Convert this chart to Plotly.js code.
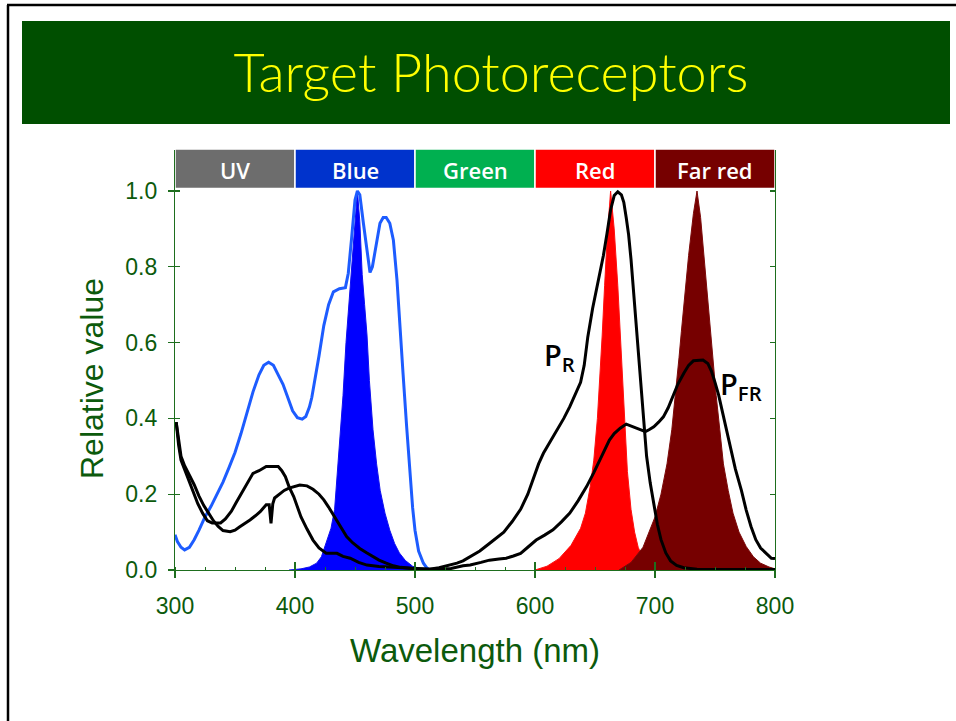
<!DOCTYPE html>
<html>
<head>
<meta charset="utf-8">
<script src="https://cdn.plot.ly/plotly-3.0.1.min.js"></script>
<style>
html,body{margin:0;padding:0;background:#fff;}
#chart{width:956px;height:721px;}
</style>
</head>
<body>
<div id="chart"></div>
<script>
// ---- data ----
const bandNames = ["UV", "Blue", "Green", "Red", "Far red"];
const bandStart = [300, 400, 500, 600, 700];
const bandEnd   = [400, 500, 600, 700, 800];

const cryWl  = [300,302,305,308,312,316,320,325,330,335,340,345,350,355,360,365,370,374,378,382,386,390,394,398,402,406,409,412,414,416,420,424,428,432,437,442,444.4,447,450,452,454,457,459.7,462.5,464.5,466.7,470.8,473.5,476,479,482,485,487.5,490,493,496,498,500,503,507,510,513];
const cryVal = [0.093,0.075,0.06,0.053,0.06,0.08,0.105,0.14,0.168,0.2,0.232,0.27,0.31,0.36,0.415,0.47,0.515,0.54,0.548,0.54,0.515,0.49,0.455,0.42,0.402,0.398,0.405,0.43,0.455,0.49,0.565,0.645,0.7,0.734,0.742,0.745,0.783,0.87,0.976,1.0,0.99,0.915,0.844,0.785,0.8,0.844,0.915,0.93,0.93,0.915,0.87,0.765,0.63,0.52,0.38,0.245,0.165,0.105,0.05,0.018,0.005,0];

const prWl  = [301,303,305,308,311,315,319,323,327,331,338,342,347,351,356,360,365,370,376,386,389,392,395,399,402,405,410,415,420,426,435,440,446,453,460,470,482,495,512,520,528,535,540,546,554,562,568,574,581,588,594,599,603,607,612,618,624,629,634,638,641,644,648,653,657,660,663,666,669,672,674,676,678,680,682,684,686,688,690,693,696,699,702,705,709,713,718,724,735,760,800];
const prVal = [0.39,0.33,0.29,0.265,0.24,0.205,0.175,0.15,0.13,0.124,0.124,0.135,0.155,0.178,0.205,0.229,0.255,0.262,0.273,0.273,0.262,0.246,0.22,0.193,0.165,0.14,0.108,0.079,0.058,0.044,0.044,0.036,0.031,0.02,0.013,0.009,0.007,0.004,0.002,0.006,0.012,0.018,0.024,0.035,0.05,0.07,0.085,0.1,0.128,0.16,0.2,0.246,0.28,0.308,0.335,0.369,0.4,0.431,0.465,0.495,0.54,0.615,0.69,0.765,0.83,0.888,0.95,0.988,0.998,0.99,0.97,0.93,0.885,0.82,0.74,0.65,0.57,0.49,0.42,0.3,0.23,0.172,0.12,0.08,0.045,0.024,0.012,0.006,0.002,0.001,0.001];

const pfrWl  = [301,303,305,308,312,316,320,324,328,332,336,340,346,350,354,358,362.5,367,371,376,378.5,380,381.5,383,387,391,395,399,404,410,415,420,424,428,432,437,443,448,454,460,465,470,476,482,488,498,512,530,540,546,555,562,570,576,582,588,594,601,608,615,622,629,636,643,649,654,658,662,666,671,676,680,684,688,692,695,699,703,707,711,715,719,724,728,732,740,744,747,750,753,756,759,763,767,772,776,780,784,788,793,797,800];
const pfrVal = [0.39,0.34,0.3,0.275,0.25,0.225,0.195,0.17,0.15,0.13,0.115,0.104,0.101,0.105,0.114,0.122,0.132,0.143,0.154,0.172,0.172,0.123,0.175,0.19,0.2,0.21,0.216,0.22,0.224,0.222,0.213,0.2,0.185,0.166,0.145,0.117,0.088,0.072,0.057,0.045,0.035,0.026,0.018,0.011,0.007,0.004,0.002,0.004,0.011,0.013,0.02,0.026,0.029,0.031,0.037,0.044,0.06,0.079,0.092,0.106,0.127,0.15,0.183,0.22,0.257,0.29,0.317,0.343,0.36,0.374,0.385,0.38,0.373,0.368,0.365,0.37,0.378,0.39,0.404,0.428,0.457,0.49,0.519,0.54,0.552,0.554,0.545,0.525,0.495,0.462,0.42,0.378,0.32,0.266,0.21,0.158,0.115,0.08,0.058,0.044,0.031,0.03];

const blueLedWl  = [395,405,412,418,422,426,430,433,436,438,440,442.5,445,447,450,452,454,456,458,460,462,465,468,471,475,479,483,487,492,498,505,510];
const blueLedVal = [0,0.003,0.008,0.018,0.035,0.07,0.11,0.16,0.28,0.37,0.46,0.6,0.7,0.78,0.92,1.0,0.92,0.78,0.7,0.62,0.5,0.37,0.28,0.21,0.15,0.105,0.07,0.045,0.025,0.01,0.003,0];

const redLedWl  = [600,610,620,630,638,642,646,649,652,654,656,658,660,663,666,669,671,673,675,677,680,683,686,690,700,710];
const redLedVal = [0,0.01,0.03,0.065,0.11,0.15,0.22,0.29,0.4,0.5,0.62,0.75,0.87,1.0,0.9,0.75,0.62,0.48,0.36,0.26,0.16,0.1,0.06,0.03,0.01,0];

const farRedLedWl  = [670,680,690,700,705,710,714,717,720,722,725,728,732,735,738,741,744,746,749,751,754,757,761,765,770,776,782,788,795,800];
const farRedLedVal = [0,0.02,0.06,0.14,0.2,0.28,0.37,0.46,0.56,0.63,0.74,0.83,0.94,1.0,0.93,0.82,0.7,0.63,0.53,0.46,0.37,0.28,0.21,0.15,0.1,0.062,0.035,0.018,0.008,0.003];

const xTicks = [300, 400, 500, 600, 700, 800];
const yTicks = [0, 0.2, 0.4, 0.6, 0.8, 1.0];

// ---- styles ----
const bandColors = ["#6d6d6d", "#0033cc", "#00b050", "#ff0000", "#760000"];
const axisGreen = "#1e6e1e";
const textGreen = "#0c5a0c";
const cryBlue = "#1d5cff";

const traces = [
  {x: blueLedWl, y: blueLedVal, type: "scatter", mode: "lines", fill: "tozeroy",
   fillcolor: "#0000ff", line: {color: "#1010f0", width: 1}, hoverinfo: "skip", name: "Blue LED"},
  {x: redLedWl, y: redLedVal, type: "scatter", mode: "lines", fill: "tozeroy",
   fillcolor: "#ff0000", line: {color: "#ff1010", width: 1}, hoverinfo: "skip", name: "Red LED"},
  {x: farRedLedWl, y: farRedLedVal, type: "scatter", mode: "lines", fill: "tozeroy",
   fillcolor: "#760000", line: {color: "#7c0a0a", width: 1}, hoverinfo: "skip", name: "Far red LED"},
  {x: cryWl, y: cryVal, type: "scatter", mode: "lines", line: {color: cryBlue, width: 3}, name: "CRY"},
  {x: prWl, y: prVal, type: "scatter", mode: "lines", line: {color: "#000", width: 3}, name: "PR"},
  {x: pfrWl, y: pfrVal, type: "scatter", mode: "lines", line: {color: "#000", width: 3}, name: "PFR"},
  {x: [], y: [], xaxis: "x2", yaxis: "y2", type: "scatter", mode: "lines", showlegend: false, hoverinfo: "skip"}
];

// plot area: x 175..775 px, y 150..570 px ; 1.0 at 191 px
const yMax = 420 / 379;
const px2paperX = p => (p - 175) / 600;
const px2paperY = p => (570 - p) / 420;

const shapes = [
  // slide frame
  {type: "rect", xref: "paper", yref: "paper", x0: px2paperX(22), x1: px2paperX(950), y0: px2paperY(124), y1: px2paperY(21),
   fillcolor: "#004f00", line: {width: 0}, layer: "below"},
  {type: "line", xref: "paper", yref: "paper", x0: px2paperX(7), x1: px2paperX(956), y0: px2paperY(5), y1: px2paperY(5),
   line: {color: "#000", width: 2.5}},
  {type: "line", xref: "paper", yref: "paper", x0: px2paperX(8), x1: px2paperX(8), y0: px2paperY(5), y1: px2paperY(721),
   line: {color: "#000", width: 2.5}}
];
const annotations = [];
bandNames.forEach((n, i) => {
  shapes.push({type: "rect", xref: "x", yref: "paper", x0: bandStart[i], x1: bandEnd[i],
    y0: px2paperY(188.5), y1: px2paperY(149), fillcolor: bandColors[i], line: {color: "#fff", width: 1.5}, layer: "above"});
  annotations.push({xref: "x", yref: "paper", x: (bandStart[i] + bandEnd[i]) / 2, y: px2paperY(170),
    text: n, showarrow: false, xanchor: "center", yanchor: "middle",
    font: {family: "Open Sans, sans-serif", size: 22, color: "#ffffff", weight: 600}});
});
annotations.push(
  {xref: "paper", yref: "paper", x: px2paperX(92), y: px2paperY(379), text: "Relative value", textangle: -90,
   showarrow: false, xanchor: "center", yanchor: "middle",
   font: {family: "Liberation Sans, Arial, sans-serif", size: 32, color: textGreen}},
  {xref: "x", yref: "y", x: 280, y: (570 - 325) / 379, text: "CRY", showarrow: false,
   xanchor: "center", yanchor: "middle", font: {family: "Liberation Sans, Arial, sans-serif", size: 28, color: cryBlue}},
  {xref: "x", yref: "y", x: 620, y: (570 - 356) / 379, text: "P<sub>R</sub>", showarrow: false,
   xanchor: "center", yanchor: "middle", font: {family: "Open Sans, sans-serif", size: 29, color: "#000", weight: 600}},
  {xref: "x", yref: "y", x: 772, y: (570 - 385) / 379, text: "P<sub>FR</sub>", showarrow: false,
   xanchor: "center", yanchor: "middle", font: {family: "Open Sans, sans-serif", size: 29, color: "#000", weight: 600}}
);

const layout = {
  width: 956, height: 721,
  margin: {l: 175, r: 181, t: 150, b: 151, pad: 0},
  paper_bgcolor: "#ffffff", plot_bgcolor: "#ffffff",
  showlegend: false,
  title: {text: "Target Photoreceptors", x: 491 / 956, xanchor: "center", y: 1 - 73 / 721, yanchor: "middle",
          font: {family: "Lato, sans-serif", size: 54, color: "#ffff00", weight: 300}},
  xaxis: {range: [300, 800], tickvals: xTicks, ticktext: xTicks.map(String), showgrid: false, zeroline: false,
          showline: true, linecolor: axisGreen, linewidth: 1.2, ticks: "outside", ticklen: 7, tickwidth: 1.2, tickcolor: axisGreen,
          ticklabelstandoff: 8,
          minor: {dtick: 25, ticks: "inside", ticklen: 3, tickwidth: 1, tickcolor: axisGreen},
          tickfont: {family: "Liberation Sans, Arial, sans-serif", size: 23, color: textGreen},
          title: {text: "Wavelength (nm)", standoff: 21, font: {family: "Liberation Sans, Arial, sans-serif", size: 33, color: textGreen}}},
  yaxis: {range: [0, yMax], tickvals: yTicks, tickformat: ".1f", showgrid: false, zeroline: false,
          showline: true, mirror: true, linecolor: axisGreen, linewidth: 1.2, ticks: "outside", ticklen: 6, tickwidth: 1.2, tickcolor: axisGreen,
          ticklabelstandoff: 6,
          tickfont: {family: "Liberation Sans, Arial, sans-serif", size: 23, color: textGreen}},
  xaxis2: {overlaying: "x", range: [300, 800], tickvals: xTicks, showticklabels: false, showgrid: false, zeroline: false,
           showline: false, ticks: "inside", ticklen: 8, tickwidth: 1.2, tickcolor: axisGreen},
  yaxis2: {overlaying: "y", range: [0, yMax], tickvals: yTicks, showticklabels: false, showgrid: false, zeroline: false,
           showline: false, ticks: "inside", mirror: "ticks", ticklen: 5, tickwidth: 1.2, tickcolor: axisGreen},
  shapes: shapes,
  annotations: annotations
};

Plotly.newPlot("chart", traces, layout, {displayModeBar: false, staticPlot: true});
</script>
</body>
</html>
